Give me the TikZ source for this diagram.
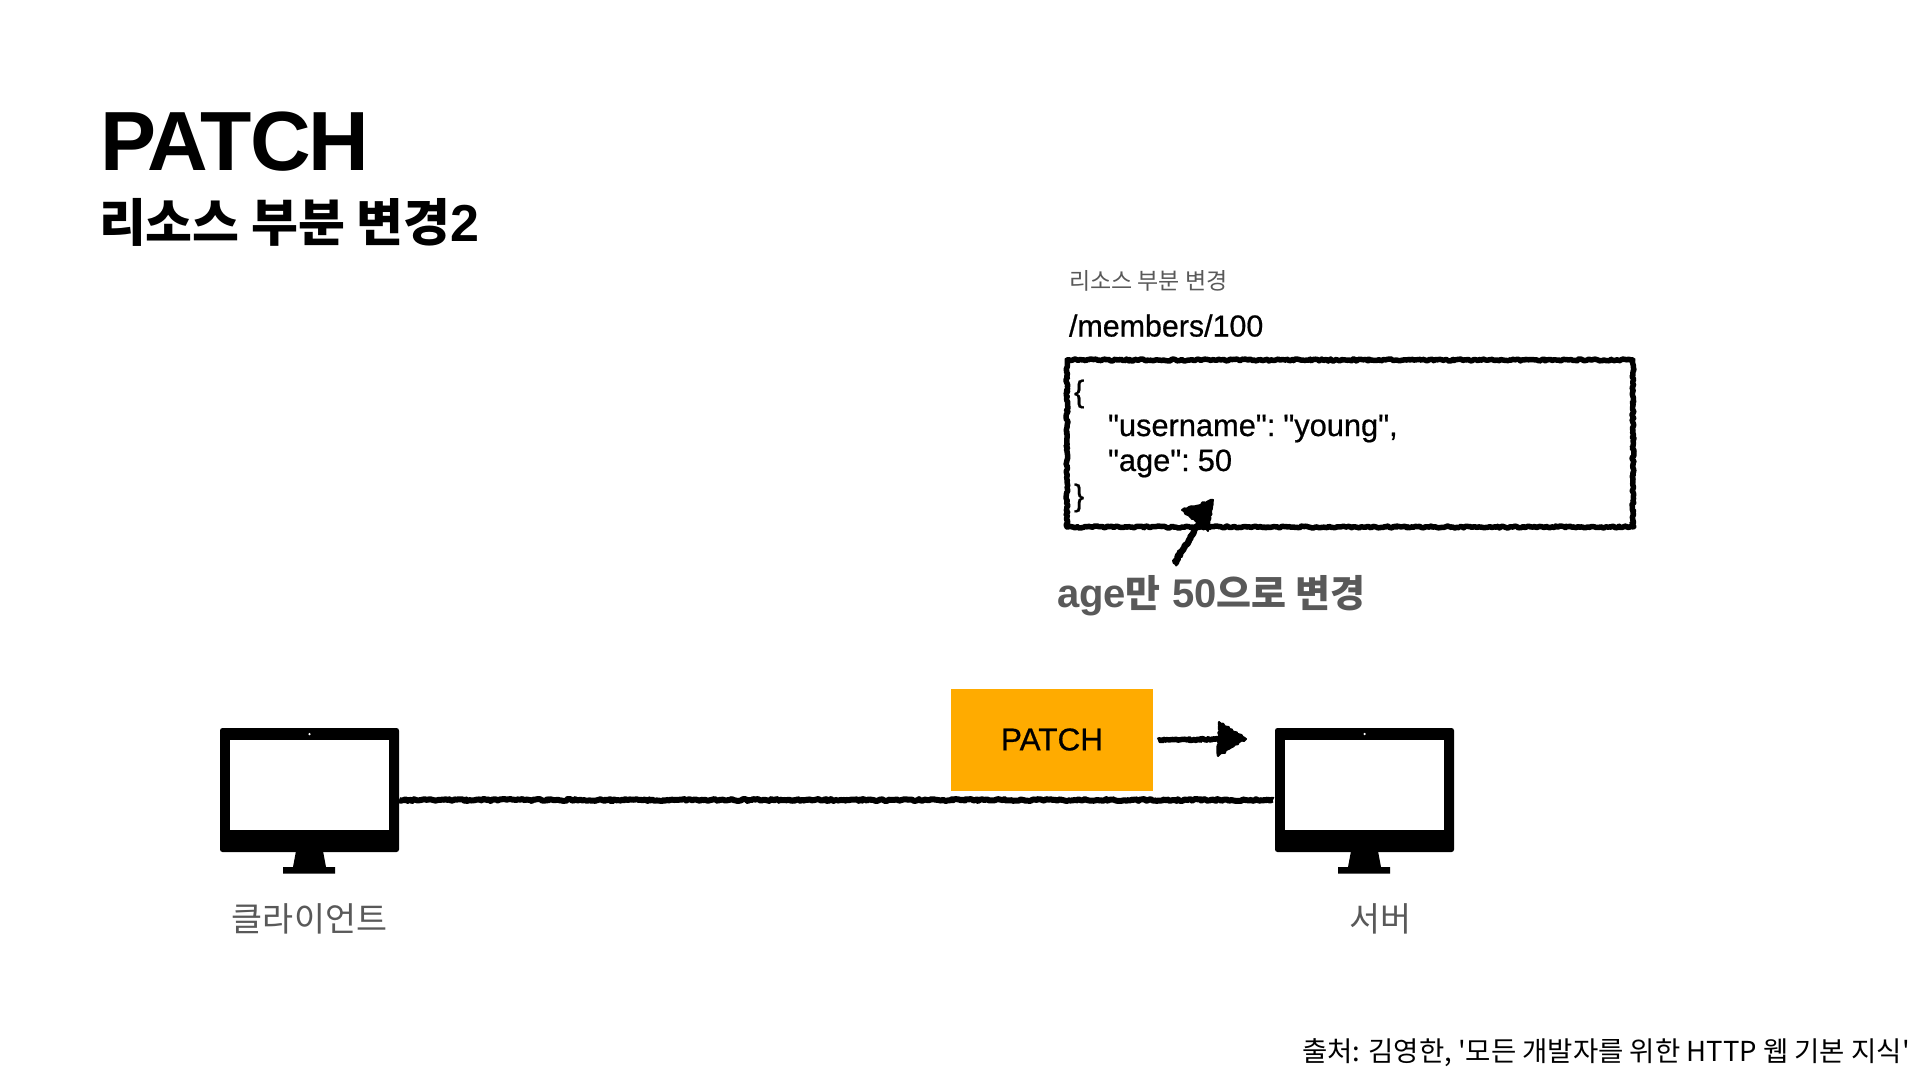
\documentclass[tikz,border=0pt]{standalone}
\usepackage{fontspec}
\usetikzlibrary{arrows.meta,decorations.pathmorphing,calc}
\setmainfont{Liberation Sans}
\newfontfamily\kor{Noto Sans CJK KR}
\newfontfamily\titlefont[LetterSpace=-2.2]{Liberation Sans}
\newfontfamily\bodyfont[FakeBold=0.6]{Liberation Sans}
\definecolor{txtgray}{HTML}{595959}
\definecolor{patchorange}{HTML}{FFAB00}
\newcommand{\fs}[1]{\fontsize{#1}{#1}\selectfont}
\newcommand{\qq}{\symbol{34}}
\tikzset{
  x=1pt,y=-1pt,
  lbl/.style={inner sep=0pt,outer sep=0pt,anchor=base west},
  rough/.style={draw=black,line width=#1,line join=round,decorate,decoration={random steps,segment length=1.8pt,amplitude=1pt}},
  roughhead/.style={fill=black,draw=black,line width=2pt,line join=round,decorate,decoration={random steps,segment length=2.5pt,amplitude=1pt}},
  monitorbody/.style={fill=black,rounded corners=2.5pt,minimum width=179pt,minimum height=124pt,inner sep=0pt,outer sep=0pt},
  screenface/.style={fill=white,minimum width=159pt,minimum height=90pt,inner sep=0pt},
  camdot/.style={circle,fill=white,minimum size=2.5pt,inner sep=0pt},
}
\begin{document}
\begin{tikzpicture}
\pgfmathsetseed{7}
\useasboundingbox (0,0) rectangle (1920,1080);
\fill[white] (0,0) rectangle (1920,1080);
% titles
\node[lbl] (title) at (100,170) {\titlefont\bfseries\fs{84}PATCH};
\node[lbl] (subtitle) at (99,241) {\kor\bfseries\fs{51}리소스 부분 변경{\rmfamily\fs{52}2}};
% resource labels
\node[lbl,text=txtgray] (small) at (1069,289) {\kor\fs{23}리소스 부분 변경};
\node[lbl] (path) at (1069,336.5) {\bodyfont\fs{30.4}/members/100};
% JSON box
\node[minimum width=566pt,minimum height=167pt,inner sep=0pt,outer sep=0pt] (jsonbox) at (1350,443.5) {};
\draw[rough=5.5pt] (jsonbox.north west) -- (jsonbox.north east) -- (jsonbox.south east) -- (jsonbox.south west) -- cycle;
\node[lbl] (j1) at (1074,402) {\bodyfont\fs{30.8}\{};
\node[lbl] (j2) at (1108,436) {\bodyfont\fs{30.8}\qq username\qq:\hspace{8pt}\qq young\qq,};
\node[lbl] (j3) at (1108,471) {\bodyfont\fs{30.8}\qq age\qq:\hspace{8pt}50};
\node[lbl] (j4) at (1074,506) {\bodyfont\fs{30.8}\}};
% annotation
\node[lbl,text=txtgray] (note) at (1057,607) {\bfseries\fs{40}age{\kor\fs{38}만} 50{\kor\fs{38}으로 변경}};
\coordinate (noteTail) at (1174,564);
\coordinate (noteTip) at (1213,500);
\draw[rough=6.5pt] (noteTail) -- ($(noteTail)!0.7!(noteTip)$);
\draw[roughhead] (noteTip) -- (1182,510) -- (1208,531) -- cycle;
% method box
\node[fill=patchorange,minimum width=202pt,minimum height=102pt,inner sep=0pt,outer sep=0pt] (method) at (1052,739.5) {\bodyfont\fs{31.5}PATCH};
\coordinate (flowTip) at (1246,739);
\draw[rough=5.5pt] ([xshift=5pt,yshift=-1pt]method.east) -- ([xshift=-25pt]flowTip);
\draw[roughhead] (flowTip) -- ([xshift=-28pt,yshift=-17pt]flowTip) -- ([xshift=-27pt,yshift=17pt]flowTip) -- cycle;
% client monitor
\node[monitorbody] (client) at (309.5,790) {};
\node[screenface] at (309.5,785) (clientscreen) {};
\node[camdot] (clientcam) at (309.5,734) {};
\fill[black] (296,851) -- (323,851) -- (326,867) -- (335,867) -- (335,873.5) -- (283,873.5) -- (283,867) -- (293,867) -- cycle;
\node[text=txtgray,inner sep=0pt] (clientlabel) at (309.5,919) {\kor\fs{33.7}클라이언트};
% server monitor
\node[monitorbody] (server) at (1364.5,790) {};
\node[screenface] at (1364.5,785) (serverscreen) {};
\node[camdot] (servercam) at (1364.5,734) {};
\fill[black] (1351,851) -- (1378,851) -- (1381,867) -- (1390,867) -- (1390,873.5) -- (1338,873.5) -- (1338,867) -- (1348,867) -- cycle;
\node[text=txtgray,inner sep=0pt] (serverlabel) at (1380,919) {\kor\fs{33.7}서버};
% link
\draw[rough=6pt] ([yshift=-10pt]client.east) -- ([yshift=-10pt,xshift=-2pt]server.west);
% source
\node[lbl] (source) at (1302,1061) {\kor\fs{27.5}출처: 김영한, '모든 개발자를 위한 HTTP 웹 기본 지식'};
\end{tikzpicture}
\end{document}
